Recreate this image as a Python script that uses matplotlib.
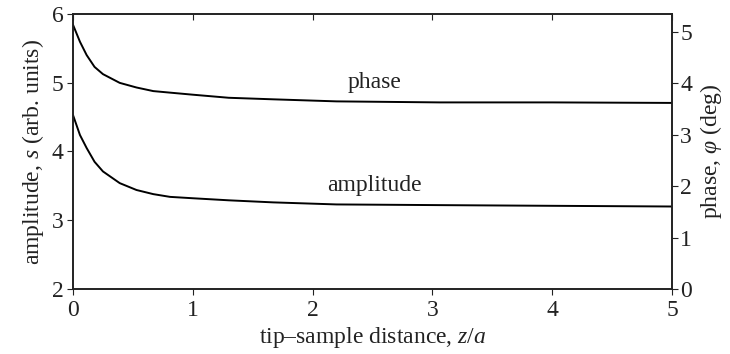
import matplotlib
matplotlib.use('Agg')
import matplotlib.pyplot as plt

plt.rcParams['font.family'] = ['Liberation Serif', 'DejaVu Serif']
plt.rcParams['mathtext.fontset'] = 'custom'
plt.rcParams['mathtext.it'] = 'Liberation Serif:italic'
plt.rcParams['mathtext.rm'] = 'Liberation Serif'

# values
z = [0.0, 0.058, 0.114, 0.18, 0.25, 0.39, 0.53, 0.67, 0.81, 1.0, 1.3, 1.67, 2.2, 3.06, 4.0, 5.0]
amplitude = [4.53, 4.24, 4.05, 3.85, 3.71, 3.54, 3.44, 3.38, 3.34, 3.32, 3.29, 3.26, 3.23, 3.22, 3.21, 3.20]
phase = [5.14, 4.81, 4.55, 4.32, 4.18, 4.01, 3.92, 3.85, 3.82, 3.78, 3.72, 3.69, 3.65, 3.63, 3.63, 3.62]

fig = plt.figure(figsize=(7.3, 3.54), dpi=100)
ax = fig.add_axes([0.1, 0.1836, 0.8205, 0.7769])
ax2 = ax.twinx()

ax.plot(z, amplitude, color='black', lw=1.4)
ax2.plot(z, phase, color='black', lw=1.4)

ax.set_xlim(0, 5)
ax.set_ylim(2, 6)
ax2.set_ylim(0, 5.35)
ax.set_xticks([0, 1, 2, 3, 4, 5])
ax.set_yticks([2, 3, 4, 5, 6])
ax2.set_yticks([0, 1, 2, 3, 4, 5])

fs = 17
ax.tick_params(axis='x', direction='out', length=4, labelsize=fs, colors='#222222', pad=4)
ax.tick_params(axis='y', direction='out', length=4, labelsize=fs, colors='#222222', pad=3)
ax.tick_params(axis='x', which='major', top=True)
ax2.tick_params(axis='y', direction='out', length=4, labelsize=fs, colors='#222222', pad=2)
# top ticks point inward
for t in ax.xaxis.get_major_ticks():
    t.tick2line.set_marker(3)

ax.set_xlabel('tip–sample distance, $z/a$', fontsize=fs, color='#222222', labelpad=3)
ax.set_ylabel('amplitude, $s$ (arb. units)', fontsize=fs, color='#222222', labelpad=4)
ax2.set_ylabel(r'phase, $\varphi$ (deg)', fontsize=fs, color='#222222', labelpad=4)

for a in (ax, ax2):
    for s in a.spines.values():
        s.set_linewidth(1.2)
        s.set_color('#222222')

ax.text(2.52, 5.01, 'phase', fontsize=fs, ha='center', va='center', color='#222222')
ax.text(2.52, 3.51, 'amplitude', fontsize=fs, ha='center', va='center', color='#222222')

fig.savefig('out.png', dpi=100)
